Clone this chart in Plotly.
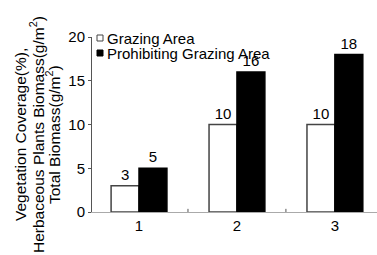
import plotly.graph_objects as go

categories = [1, 2, 3]
grazing = [3, 10, 10]
prohibiting = [5, 16, 18]
series_names = ["Grazing Area", "Prohibiting Grazing Area"]
y_ticks = [0, 5, 10, 15, 20]
y_title_lines = [
    "Vegetation Coverage(%),",
    "Herbaceous Plants Biomass(g/m<sup>2</sup>)",
    "Total Biomass(g/m<sup>2</sup>)",
]

FONT = "Liberation Sans, Arial, sans-serif"
fill_colors = ["white", "black"]
edge_colors = ["#444444", "black"]

fig = go.Figure()
for vals, name, fc, ec in zip([grazing, prohibiting], series_names, fill_colors, edge_colors):
    fig.add_trace(go.Bar(
        x=categories, y=vals, name=name, showlegend=False,
        marker=dict(color=fc, line=dict(color=ec, width=1.5)),
        text=vals, textposition="outside", cliponaxis=False,
        textfont=dict(size=15, color="black", family=FONT),
    ))

annotations = []
for line, xs in zip(y_title_lines, [-72, -55, -39]):
    annotations.append(dict(
        text=line, textangle=-90, xref="paper", yref="paper",
        x=0, y=0.44, xanchor="center", yanchor="middle", xshift=xs,
        showarrow=False, font=dict(size=15.5, color="black", family=FONT),
    ))
shapes = []
# legend drawn as small squares + text labels
for i, (name, fc, ec) in enumerate(zip(series_names, fill_colors, edge_colors)):
    off = -15 * i
    shapes.append(dict(type="rect", xref="paper", yref="paper",
                       xsizemode="pixel", ysizemode="pixel",
                       xanchor=0, yanchor=1,
                       x0=5, x1=11, y0=off - 4, y1=off + 2,
                       fillcolor=fc, line=dict(color=ec, width=1)))
    annotations.append(dict(text=name, xref="paper", yref="paper",
                            x=0, y=1, xshift=13, yshift=off - 1,
                            xanchor="left", yanchor="middle", showarrow=False,
                            font=dict(size=15, color="black", family=FONT)))

# inward ticks between categories on the x axis
for xv in [1.5, 2.5]:
    shapes.append(dict(type="line", xref="x", yref="paper", x0=xv, x1=xv,
                       y0=0, y1=0.018, line=dict(color="#555555", width=1)))

fig.update_layout(
    width=377, height=255,
    margin=dict(l=92, r=0, t=37, b=43),
    paper_bgcolor="white", plot_bgcolor="white",
    barmode="group", bargap=0.43, bargroupgap=0,
    font=dict(family=FONT, size=14, color="black"),
    xaxis=dict(range=[0.52, 3.43], tickvals=categories, ticks="",
               showline=True, linecolor="#aaaaaa", linewidth=1,
               showgrid=False, zeroline=False, tickfont=dict(size=15)),
    yaxis=dict(range=[0, 20], tickvals=y_ticks, ticks="outside", ticklen=3,
               tickcolor="#555555", showline=True, linecolor="#555555",
               linewidth=1, showgrid=False, zeroline=False,
               tickfont=dict(size=15)),
    annotations=annotations,
    shapes=shapes,
)

fig.write_html("out.html", config={"displayModeBar": False},
               post_script="document.body.style.margin='0px';")
